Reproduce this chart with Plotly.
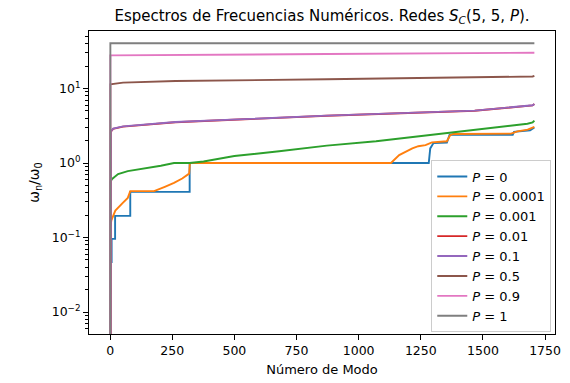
import plotly.graph_objects as go

# ---- data (mode index, omega_n/omega_0) ----
ZERO = 1e-6  # first (zero) mode, below the visible range

p0_x = [0, 1, 6, 6, 20, 20, 81, 81, 320, 320, 1282, 1288, 1301, 1355, 1366, 1620, 1625, 1690, 1707]
p0_y = [ZERO, 0.047, 0.047, 0.096, 0.096, 0.195, 0.195, 0.41, 0.41, 1.0, 1.0, 1.57, 1.85, 1.88, 2.40, 2.40, 2.62, 2.75, 3.0]

p1_x = [0, 1, 5, 21, 50, 71, 81, 177, 220, 257, 290, 318, 321, 1130, 1163, 1189, 1216, 1240, 1269, 1295, 1355, 1368, 1380, 1613, 1639, 1680, 1700, 1707]
p1_y = [ZERO, 0.14, 0.17, 0.23, 0.29, 0.34, 0.42, 0.42, 0.48, 0.54, 0.62, 0.72, 1.0, 1.0, 1.28, 1.42, 1.57, 1.68, 1.74, 1.89, 1.96, 2.36, 2.45, 2.48, 2.66, 2.8, 2.95, 3.05]

p2_x = [0, 1, 8, 32, 71, 138, 204, 257, 320, 376, 500, 680, 872, 1070, 1300, 1500, 1679, 1700, 1707]
p2_y = [ZERO, 0.56, 0.61, 0.71, 0.78, 0.84, 0.92, 1.0, 1.0, 1.05, 1.24, 1.44, 1.71, 1.96, 2.4, 2.85, 3.37, 3.5, 3.72]

p3_x = [0, 1, 3, 12, 52, 263, 753, 872, 1467, 1679, 1700, 1707]
p3_y = [ZERO, 2.48, 2.63, 2.87, 3.08, 3.53, 4.11, 4.31, 5.03, 5.75, 5.93, 6.18]

p4_x = [0, 1, 3, 12, 52, 263, 753, 872, 1467, 1679, 1700, 1707]
p4_y = [ZERO, 2.5, 2.65, 2.89, 3.10, 3.55, 4.13, 4.33, 5.05, 5.77, 5.95, 6.2]

p5_x = [0, 1, 52, 263, 872, 1665, 1700, 1707]
p5_y = [ZERO, 11.4, 12.0, 12.6, 13.3, 14.3, 14.5, 14.8]

p6_x = [0, 1, 872, 1707]
p6_y = [ZERO, 27.9, 29.0, 30.2]

p7_x = [0, 1, 1707]
p7_y = [ZERO, 40.6, 40.6]

labels = ["0", "0.0001", "0.001", "0.01", "0.1", "0.5", "0.9", "1"]
colors = ["#1f77b4", "#ff7f0e", "#2ca02c", "#d62728", "#9467bd", "#8c564b", "#e377c2", "#7f7f7f"]
series = [(p0_x, p0_y), (p1_x, p1_y), (p2_x, p2_y), (p3_x, p3_y),
          (p4_x, p4_y), (p5_x, p5_y), (p6_x, p6_y), (p7_x, p7_y)]

x_ticks = [0, 250, 500, 750, 1000, 1250, 1500, 1750]
y_ticks = [0.01, 0.1, 1, 10]
y_ticktext = ["10<sup>−2</sup>", "10<sup>−1</sup>", "10<sup>0</sup>", "10<sup>1</sup>"]
y_minor = [m * d for d in (0.001, 0.01, 0.1, 1, 10) for m in range(2, 10)]

FONT = "DejaVu Sans"
Y_RANGE = [-2.295, 1.772]

fig = go.Figure()
for i, ((xs, ys), lab, col) in enumerate(zip(series, labels, colors)):
    fig.add_trace(go.Scatter(
        x=xs, y=ys, mode="lines",
        line=dict(color=col, width=1.9),
        name="<i>P</i> = " + lab,
        legendgroup="g%d" % i,
    ))

fig.update_layout(
    width=570, height=383,
    margin=dict(l=89, r=9, t=31, b=45),
    paper_bgcolor="white", plot_bgcolor="white",
    font=dict(family=FONT, size=12.5, color="black"),
    title=dict(
        text="Espectros de Frecuencias Numéricos. Redes <i>S</i><sub><i>C</i></sub>(5, 5, <i>P</i>).",
        x=0.5, xref="paper", xanchor="center",
        y=1 - 16 / 383, yref="container", yanchor="middle",
        font=dict(size=15, family=FONT, color="black"),
    ),
    showlegend=True,
    legend=dict(
        x=0.992, xanchor="right", y=0.005, yanchor="bottom",
        bgcolor="rgba(255,255,255,0.8)", bordercolor="#cccccc", borderwidth=1,
        font=dict(size=13, family=FONT, color="black"),
        itemwidth=30, tracegroupgap=0,
    ),
)

fig.update_xaxes(
    range=[-85, 1790],
    tickvals=x_ticks, ticktext=[str(v) for v in x_ticks],
    ticks="outside", ticklen=5, tickwidth=1.2, tickcolor="black",
    showline=True, linecolor="black", linewidth=1, mirror=True,
    showgrid=False, zeroline=False,
    tickfont=dict(size=12.5, family=FONT, color="black"),
    title=dict(text="Número de Modo", font=dict(size=13, family=FONT, color="black"), standoff=7),
)

fig.update_yaxes(
    type="log", range=Y_RANGE,
    tickmode="array", tickvals=y_ticks, ticktext=y_ticktext,
    ticks="outside", ticklen=5, tickwidth=1.2, tickcolor="black",
    minor=dict(tickmode="array", tickvals=y_minor, ticks="outside", ticklen=3.5,
               tickwidth=1.1, tickcolor="black", showgrid=False),
    showline=True, linecolor="black", linewidth=1, mirror=True,
    showgrid=False, zeroline=False,
    tickfont=dict(size=12.5, family=FONT, color="black"),
    title=dict(text="ω<sub>n</sub>/ω<sub>0</sub>", font=dict(size=14, family=FONT, color="black"), standoff=8),
)

fig.write_html("out.html")
